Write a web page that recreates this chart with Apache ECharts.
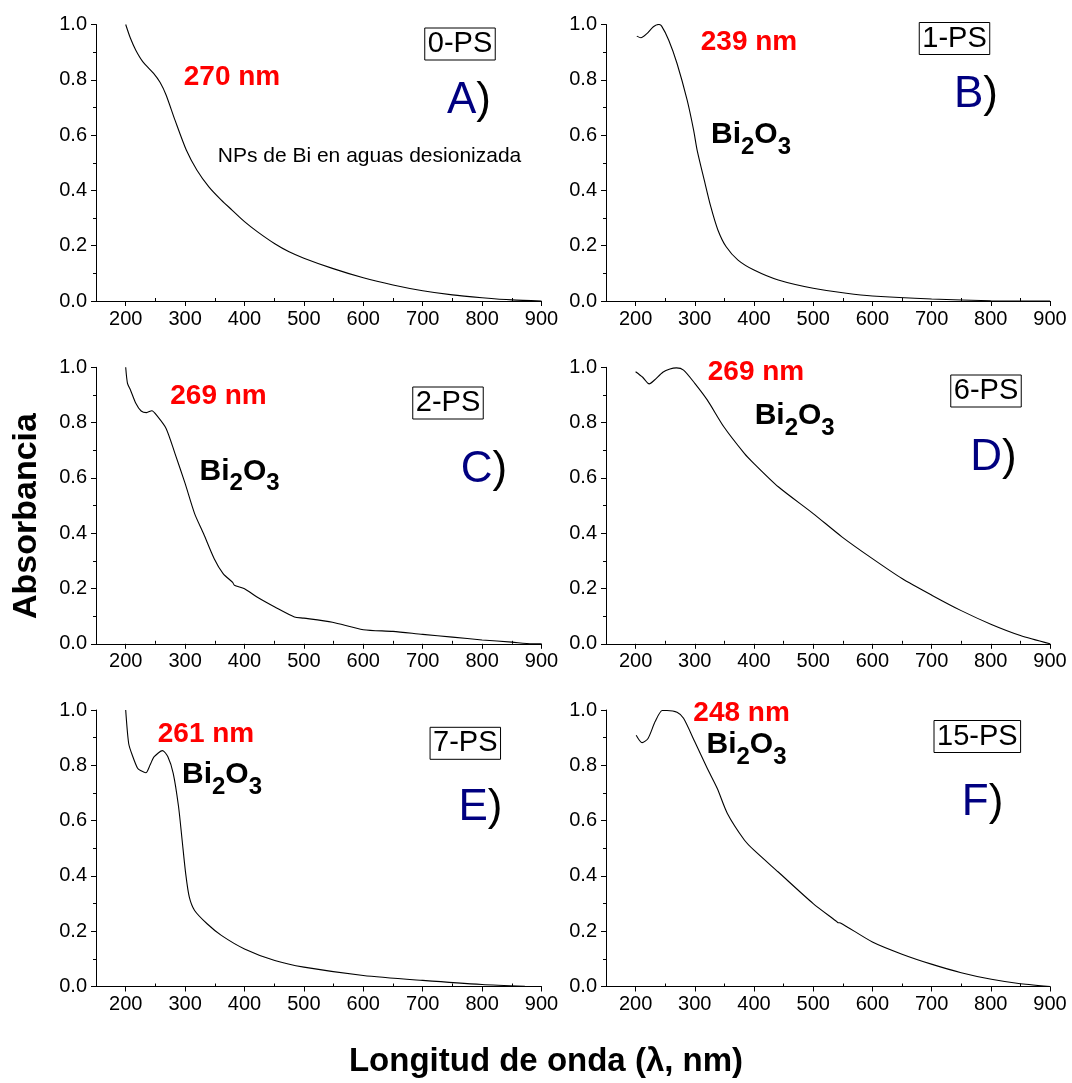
<!DOCTYPE html>
<html><head><meta charset="utf-8">
<script src="https://cdn.jsdelivr.net/npm/echarts@6/dist/echarts.min.js"></script>
<style>html,body{margin:0;padding:0;background:#fff}#c{width:1072px;height:1083px}</style>
</head><body><div id="c"></div>
<script>
// ---- data ----
const wlA  = [200,208,217,229,247,258,268,283,302,320,340,361,379,400,422,451,475,500,548,600,650,700,750,800,850,900];
const absA = [1.0,0.95,0.907,0.865,0.823,0.79,0.745,0.654,0.546,0.473,0.413,0.365,0.329,0.287,0.250,0.207,0.178,0.155,0.118,0.084,0.058,0.037,0.022,0.012,0.004,0.0];

const wlB  = [202,209,219,230,239,244,256,270,287,298,304,316,327,339,353,373,400,441,500,556,600,700,800,900];
const absB = [0.958,0.952,0.967,0.992,1.0,0.994,0.943,0.859,0.727,0.618,0.545,0.437,0.341,0.257,0.196,0.148,0.112,0.076,0.046,0.028,0.018,0.007,0.001,0.0];

const wlC  = [200,203,208,217,226,235,244,253,268,283,300,316,331,349,364,380,383,400,421,451,484,500,548,600,650,700,750,800,850,884,900];
const absC = [1.0,0.942,0.918,0.870,0.842,0.836,0.843,0.824,0.779,0.688,0.580,0.471,0.399,0.308,0.254,0.222,0.212,0.199,0.169,0.133,0.097,0.093,0.078,0.051,0.045,0.034,0.024,0.014,0.006,0.0,0.0];

const wlD  = [200,212,223,232,246,258,269,281,300,321,349,384,400,441,500,549,600,650,701,750,801,850,900];
const absD = [0.984,0.964,0.940,0.954,0.982,0.994,0.998,0.990,0.942,0.882,0.785,0.688,0.652,0.568,0.471,0.386,0.308,0.236,0.175,0.120,0.070,0.030,0.0];

const wlE  = [200,205,211,220,226,234,241,248,262,271,280,289,295,301,307,316,337,361,400,451,500,600,700,800,872];
const absE = [1.0,0.879,0.837,0.789,0.780,0.773,0.801,0.831,0.853,0.831,0.771,0.650,0.529,0.408,0.324,0.275,0.227,0.185,0.136,0.094,0.070,0.040,0.022,0.007,0.001];

const wlF  = [201,211,221,233,245,253,270,281,300,321,338,355,384,400,441,500,538,542,546,600,650,701,750,801,850,900];
const absF = [0.909,0.882,0.897,0.958,0.998,0.998,0.992,0.970,0.885,0.789,0.716,0.626,0.529,0.493,0.414,0.300,0.238,0.231,0.230,0.161,0.117,0.080,0.050,0.026,0.010,0.0];

const xMajorTicks = [200,300,400,500,600,700,800,900];
const xMinorTicks = [250,350,450,550,650,750,850];
const sampleTags  = ['0-PS','1-PS','2-PS','6-PS','7-PS','15-PS'];
const panelLetters = ['A','B','C','D','E','F'];
const peakLabels  = ['270 nm','239 nm','269 nm','269 nm','261 nm','248 nm'];
const noteA = 'NPs de Bi en aguas desionizada';
const yTitle = 'Absorbancia';
const xTitle = 'Longitud de onda (\u03bb, nm)';

const wls  = [wlA, wlB, wlC, wlD, wlE, wlF];
const abss = [absA, absB, absC, absD, absE, absF];

// ---- layout ----
const FONT = "'Liberation Sans', Arial, sans-serif";
const colLeft = [96, 606];
const colWidth = [445.5, 444];
const rowTop = [24.5, 367.3, 710];
const gH = 276.5;

const grids = [], xAxes = [], yAxes = [], series = [];
for (let i = 0; i < 6; i++) {
  const c = i % 2, r = Math.floor(i / 2);
  grids.push({left: colLeft[c], top: rowTop[r], width: colWidth[c], height: gH});
  xAxes.push({
    gridIndex: i, type: 'value', min: 150, max: 900, interval: 50,
    axisLine: {show: true, onZero: false, lineStyle: {color: '#000', width: 1}},
    axisTick: {show: true, customValues: xMajorTicks, length: 5, lineStyle: {color: '#000'}},
    axisLabel: {show: true, customValues: xMajorTicks, margin: 8, color: '#000', fontSize: 20, fontFamily: FONT},
    splitLine: {show: false}
  });
  xAxes.push({
    gridIndex: i, type: 'value', min: 150, max: 900, interval: 50,
    axisLine: {show: false},
    axisTick: {show: true, customValues: xMinorTicks, length: 3, lineStyle: {color: '#000'}},
    axisLabel: {show: false},
    splitLine: {show: false}
  });
  yAxes.push({
    gridIndex: i, type: 'value', min: 0, max: 1, interval: 0.2,
    axisLine: {show: true, lineStyle: {color: '#000', width: 1}},
    axisTick: {show: true, length: 5, lineStyle: {color: '#000'}},
    minorTick: {show: true, splitNumber: 2, length: 3, lineStyle: {color: '#000'}},
    axisLabel: {color: '#000', fontSize: 20, fontFamily: FONT, margin: 9, formatter: v => v.toFixed(1)},
    splitLine: {show: false}, minorSplitLine: {show: false}
  });
  series.push({
    type: 'line', xAxisIndex: 2 * i, yAxisIndex: i,
    data: wls[i].map((w, k) => [w, abss[i][k]]),
    showSymbol: false, smooth: 0.25,
    lineStyle: {color: '#000', width: 1.1}, silent: true
  });
}

// annotation positions (pixel)
const peakPos   = [[232,77],[749,42.5],[218.5,396],[756,372],[206,734],[741.6,713]];
const tagPos    = [[460,44],[954.5,38.5],[448,403],[986,391],[465.3,743.3],[977.3,736.5]];
const letterPos = [[469,101],[976,95],[484,470],[993.5,458],[480.5,808],[982.6,803]];
const biPos     = [null,[751,135],[239.6,471.5],[794.7,416],[222,775],[746.5,745]];

const graphic = [];
for (let i = 0; i < 6; i++) {
  graphic.push({type: 'text', x: peakPos[i][0], y: peakPos[i][1], style: {
    text: peakLabels[i], fill: '#ff0000', fontSize: 28, fontWeight: 'bold', fontFamily: FONT,
    align: 'center', verticalAlign: 'middle'}});
  graphic.push({type: 'text', x: tagPos[i][0], y: tagPos[i][1], style: {
    text: sampleTags[i], fill: '#000', fontSize: 29, fontFamily: FONT,
    borderColor: '#000', borderWidth: 1, padding: [2, 3, 1, 3],
    align: 'center', verticalAlign: 'middle'}});
  graphic.push({type: 'text', x: letterPos[i][0], y: letterPos[i][1], style: {
    text: '{l|' + panelLetters[i] + '}{p|)}', fontSize: 44, fontFamily: FONT,
    rich: {l: {fill: '#000080', fontSize: 44, fontFamily: FONT}, p: {fill: '#000', fontSize: 44, fontFamily: FONT}},
    align: 'center', verticalAlign: 'middle'}});
  if (biPos[i]) {
    graphic.push({type: 'text', x: biPos[i][0], y: biPos[i][1] + 4.5, style: {
      text: '{m|Bi}{s|2}{m|O}{s|3}', fill: '#000', fontSize: 30, fontWeight: 'bold', fontFamily: FONT,
      rich: {
        m: {fill: '#000', fontSize: 30, fontWeight: 'bold', fontFamily: FONT, padding: [0, 0, 9, 0], verticalAlign: 'bottom'},
        s: {fill: '#000', fontSize: 24, fontWeight: 'bold', fontFamily: FONT, verticalAlign: 'bottom'}
      },
      align: 'center', verticalAlign: 'middle'}});
  }
}
graphic.push({type: 'text', x: 369.5, y: 156, style: {
  text: noteA, fill: '#000', fontSize: 21, fontFamily: FONT, align: 'center', verticalAlign: 'middle'}});
graphic.push({type: 'text', x: 27, y: 516, rotation: Math.PI / 2, style: {
  text: yTitle, fill: '#000', fontSize: 34, fontWeight: 'bold', fontFamily: FONT, align: 'center', verticalAlign: 'middle'}});
graphic.push({type: 'text', x: 546, y: 1062, style: {
  text: xTitle, fill: '#000', fontSize: 33, fontWeight: 'bold', fontFamily: FONT, align: 'center', verticalAlign: 'middle'}});

const chart = echarts.init(document.getElementById('c'), null, {renderer: 'canvas'});
chart.setOption({
  backgroundColor: '#fff', animation: false,
  grid: grids, xAxis: xAxes, yAxis: yAxes, series: series, graphic: graphic
});
</script></body></html>
